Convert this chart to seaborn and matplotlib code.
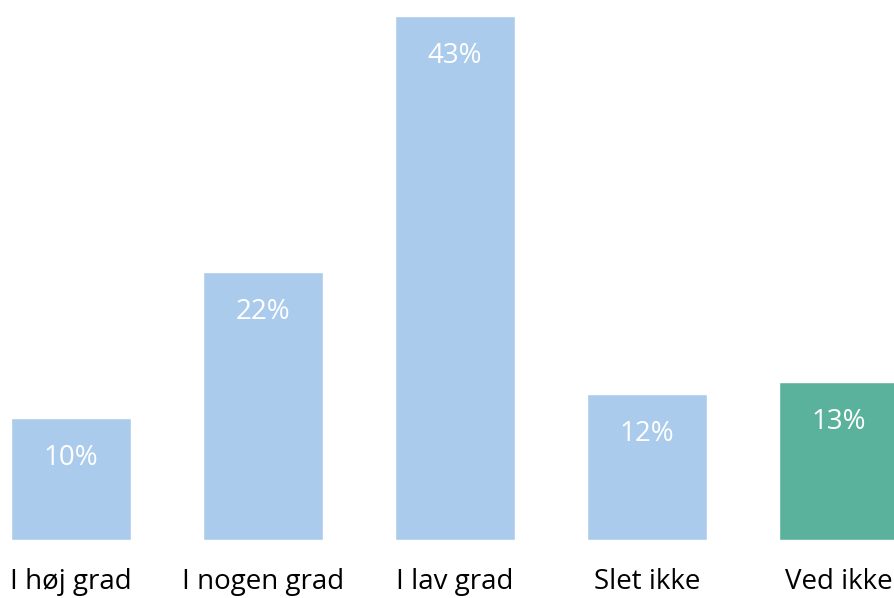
import matplotlib.pyplot as plt
import seaborn as sns
import pandas as pd

categories = ["I høj grad", "I nogen grad", "I lav grad", "Slet ikke", "Ved ikke"]
values = [10, 22, 43, 12, 13]
bar_colors = ["#ABCBEC", "#ABCBEC", "#ABCBEC", "#ABCBEC", "#5BB29C"]

sns.set_style("white")
plt.rcParams['font.family'] = ['Open Sans', 'DejaVu Sans']

df = pd.DataFrame({"cat": categories, "val": values})

fig = plt.figure(figsize=(8.95, 5.98), dpi=100)
ax = fig.add_axes([0, 58 / 598, 1, 540 / 598])
sns.barplot(data=df, x="cat", y="val", hue="cat", palette=bar_colors,
            width=0.625, legend=False, ax=ax, saturation=1)

ax.set_xlim(-71 / 192, 824 / 192)
ax.set_ylim(0, 540 / 12.19)
for i, v in enumerate(values):
    ax.annotate(f"{v}%", (i, v), xytext=(0, -40), textcoords="offset pixels",
                ha="center", va="center", color="white", fontsize=20)

ax.set_xlabel("")
ax.set_ylabel("")
ax.set_yticks([])
ax.tick_params(axis="x", length=0, pad=20, labelsize=20, labelcolor="black")
for s in ax.spines.values():
    s.set_visible(False)

fig.savefig("out.png", dpi=100)
